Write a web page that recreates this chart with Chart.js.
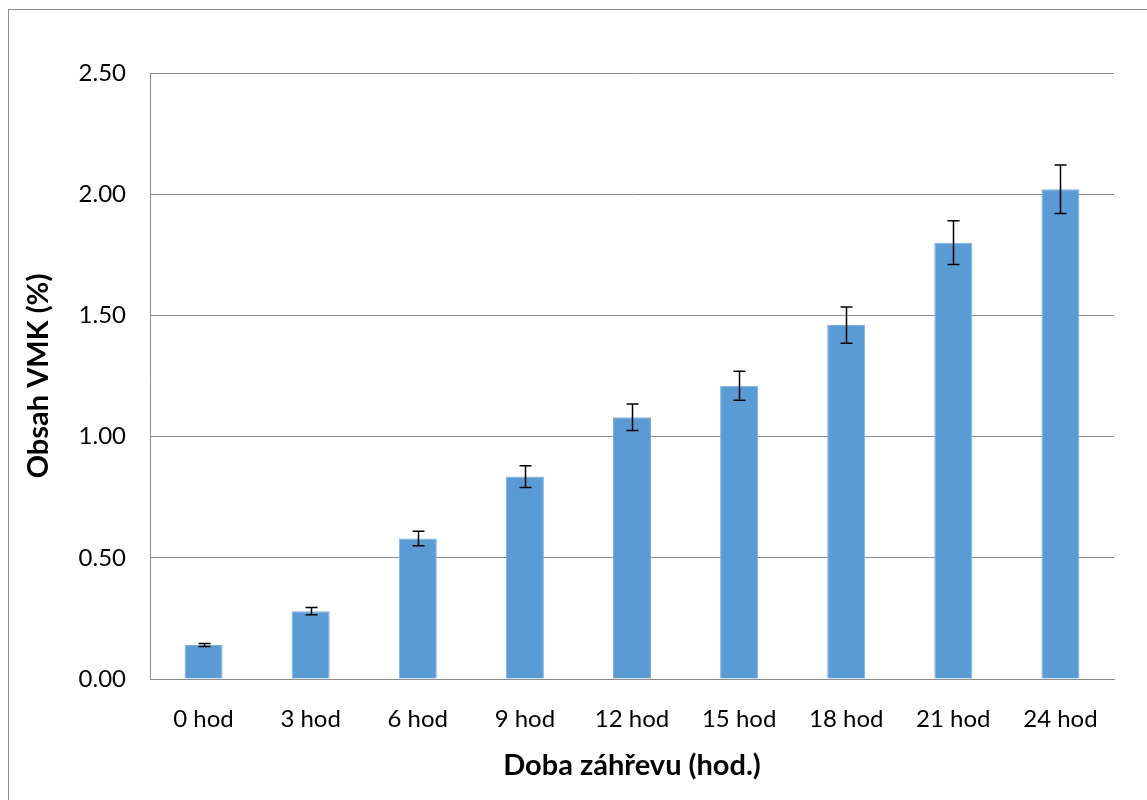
<!DOCTYPE html>
<html>
<head>
<meta charset="utf-8">
<script src="https://cdn.jsdelivr.net/npm/chart.js@4.4.1/dist/chart.umd.min.js"></script>
<style>
  html, body { margin: 0; padding: 0; background: #fff; }
  #wrap { position: relative; width: 1147px; height: 800px; }
</style>
</head>
<body>
<div id="wrap"><canvas id="chart" width="1147" height="800"></canvas></div>
<script>
// Data
const categories = ["0 hod", "3 hod", "6 hod", "9 hod", "12 hod", "15 hod", "18 hod", "21 hod", "24 hod"];
const values = [0.14, 0.28, 0.58, 0.835, 1.08, 1.21, 1.46, 1.80, 2.02];
const errors = [0.006, 0.015, 0.03, 0.045, 0.055, 0.06, 0.075, 0.09, 0.10];

const FONT = "Lato, 'Open Sans', sans-serif";

// Outer frame around the whole chart
const framePlugin = {
  id: "frame",
  beforeDraw(chart) {
    const ctx = chart.ctx;
    ctx.save();
    ctx.fillStyle = "#fff";
    ctx.fillRect(0, 0, chart.width, chart.height);
    ctx.strokeStyle = "#8c8c8c";
    ctx.lineWidth = 1;
    ctx.strokeRect(8.5, 9.5, chart.width, chart.height);
    ctx.restore();
  }
};

// Error bars drawn from the errors array
const errorBarPlugin = {
  id: "errorBars",
  afterDatasetsDraw(chart) {
    const ctx = chart.ctx;
    const yScale = chart.scales.y;
    const meta = chart.getDatasetMeta(0);
    ctx.save();
    ctx.strokeStyle = "#000";
    ctx.lineWidth = 1.5;
    meta.data.forEach((bar, i) => {
      const x = Math.round(bar.x) + 0.5;
      const top = yScale.getPixelForValue(values[i] + errors[i]);
      const bottom = yScale.getPixelForValue(values[i] - errors[i]);
      ctx.beginPath();
      ctx.moveTo(x, top);
      ctx.lineTo(x, bottom);
      ctx.moveTo(x - 6, top);
      ctx.lineTo(x + 6, top);
      ctx.moveTo(x - 6, bottom);
      ctx.lineTo(x + 6, bottom);
      ctx.stroke();
    });
    ctx.restore();
  }
};

new Chart(document.getElementById("chart"), {
  type: "bar",
  data: {
    labels: categories,
    datasets: [{
      data: values,
      backgroundColor: "#5b9bd5",
      borderColor: "#7cb0e0",
      borderWidth: 1,
      barPercentage: 0.355,
      categoryPercentage: 1.0
    }]
  },
  options: {
    responsive: false,
    animation: false,
    layout: { padding: { top: 73, right: 33, left: 0, bottom: 0 } },
    plugins: {
      legend: { display: false },
      tooltip: { enabled: false }
    },
    scales: {
      x: {
        afterFit: s => { s.height = 121; },
        grid: { display: false },
        border: { display: true, color: "#8c8c8c", width: 1 },
        ticks: { color: "#000", padding: 18, font: { family: FONT, size: 24 } },
        title: {
          display: true,
          text: "Doba záhřevu (hod.)",
          color: "#000",
          padding: { top: 0, bottom: 17 },
          font: { family: FONT, size: 29, weight: "bold" }
        }
      },
      y: {
        min: 0,
        max: 2.5,
        afterFit: s => { s.width = 150; },
        grid: { color: "#8c8c8c", drawTicks: false },
        border: { display: true, color: "#8c8c8c", width: 1 },
        ticks: {
          stepSize: 0.5,
          color: "#000",
          padding: 24,
          font: { family: FONT, size: 24 },
          callback: v => v.toFixed(2)
        },
        title: {
          display: true,
          text: "Obsah VMK (%)",
          color: "#000",
          padding: { top: 21, bottom: 0 },
          font: { family: FONT, size: 29, weight: "bold" }
        }
      }
    }
  },
  plugins: [framePlugin, errorBarPlugin]
});
</script>
</body>
</html>
